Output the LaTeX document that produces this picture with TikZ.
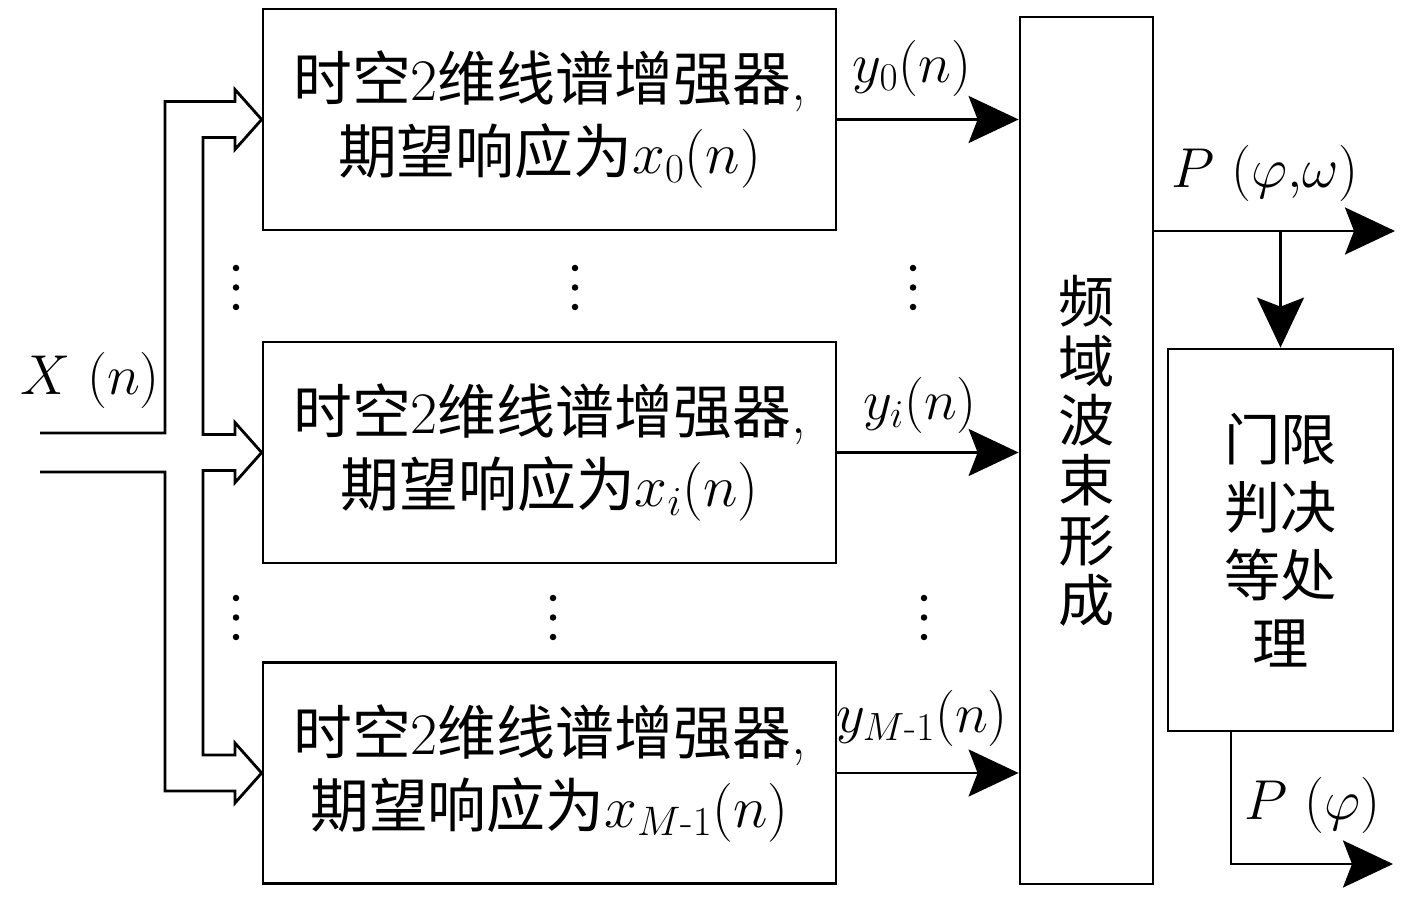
\RequirePackage{fix-cm}
\documentclass[tikz,border=0pt]{standalone}
\usepackage{amsmath}
\usepackage{fontspec}
\newfontfamily\cjk{Noto Sans CJK SC}
\usetikzlibrary{arrows.meta,calc}
\tikzset{
  base/.style={line width=1.6pt, line join=miter},
  enh/.style={base, draw, minimum width=11.46cm, minimum height=4.42cm, align=center, inner sep=0pt,
    font=\fontsize{33.5}{41.5}\selectfont},
  lbl/.style={font=\fontsize{32}{38}\selectfont, inner sep=0pt},
  dotc/.style={fill=black},
  arr/.style={base, -{Stealth[length=1cm,width=0.94cm,inset=0.18cm]}},
}
\begin{document}
\begin{tikzpicture}[x=0.02cm,y=-0.02cm]
\useasboundingbox (0,0) rectangle (1417,898);
% enhancer boxes
\node[enh] (b0) at (549.5,119.5) {{\cjk 时空}2{\cjk 维线谱增强器},\\{\cjk 期望响应为}$x_0(n)$};
\node[enh] (b1) at (549.5,452.5) {{\cjk 时空}2{\cjk 维线谱增强器},\\{\cjk 期望响应为}$x_i(n)$};
\node[enh] (b2) at (549.5,773) {{\cjk 时空}2{\cjk 维线谱增强器},\\{\cjk 期望响应为}$x_{M\text{-}1}(n)$};
% beamformer
\node[base, draw, minimum width=2.66cm, minimum height=17.34cm, inner sep=0pt, align=center,
  font=\fontsize{32}{34}\selectfont\cjk] (bf) at (1086.5,450.5) {频\\域\\波\\束\\形\\成};
% threshold
\node[base, draw, minimum width=4.5cm, minimum height=7.64cm, inner sep=0pt, align=center,
  font=\fontsize{32}{38.6}\selectfont\cjk] (th) at (1280.5,540) {门限\\判决\\等处\\理};
% vertical ellipsis dots
\foreach \x/\y in {236/268, 575/268, 913/268, 236/598, 553/598, 924/598}{
  \foreach \k in {0,1,2}{
    \fill[dotc] (\x,\y+19.5*\k) circle[radius=0.065cm];
  }
}
% input hollow arrows
\coordinate (xin1) at (40,433);
\coordinate (xin2) at (40,472);
\draw[base] (xin1) -- (165,433) -- (165,101.5) -- (235,101.5) -- (235,89.5) -- (b0.west)
  -- (235,149.5) -- (235,137.5) -- (203,137.5) -- (203,434.5) -- (235,434.5) -- (235,422.5)
  -- (b1.west) -- (235,482.5) -- (235,470.5) -- (203,470.5) -- (203,755) -- (235,755)
  -- (235,743) -- (b2.west) -- (235,803) -- (235,791) -- (165,791) -- (165,472) -- (xin2);
\node[lbl] (xl) at (90,380) {$X\ (n)$};
% outputs
\draw[arr] (b0.east) -- (b0.east -| bf.west);
\draw[arr] (b1.east) -- (b1.east -| bf.west);
\draw[arr] (b2.east) -- (b2.east -| bf.west);
\node[lbl] (y0) at (912,68) {$y_0(n)$};
\node[lbl] (yi) at (920,405) {$y_i(n)$};
\node[lbl] (ym) at (922,718) {$y_{M\text{-}1}(n)$};
% P(phi,omega)
\coordinate (pout) at (1395,231);
\draw[arr] (bf.east |- pout) -- (pout);
\draw[arr] (th.north |- pout) -- (th.north);
\node[lbl] (pl1) at (1265,173) {$P\ (\varphi{,}\omega)$};
% P(phi)
\coordinate (pphi) at (1393,864);
\draw[arr] ([xshift=-0.99cm]th.south) |- (pphi);
\node[lbl] (pl2) at (1312,805) {$P\ (\varphi)$};
\end{tikzpicture}
\end{document}
